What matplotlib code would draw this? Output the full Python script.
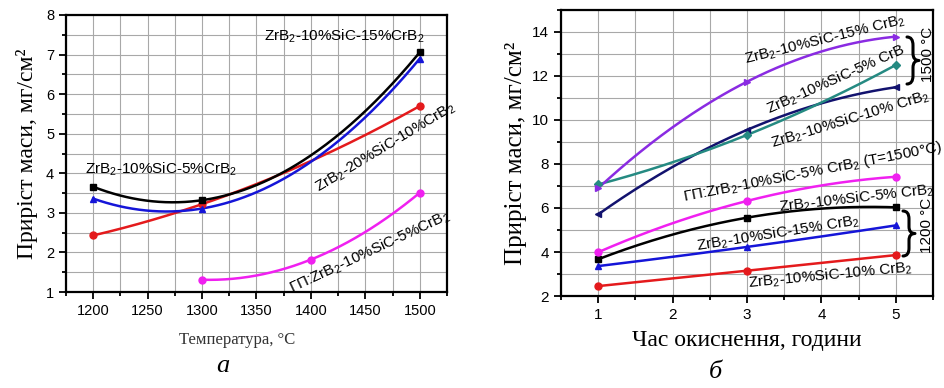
import numpy as np
import matplotlib
matplotlib.use("Agg")
import matplotlib.pyplot as plt
from matplotlib.ticker import MultipleLocator
from matplotlib.path import Path
from matplotlib.patches import PathPatch

plt.rcParams['font.family'] = ['Liberation Sans', 'DejaVu Sans']
plt.rcParams['mathtext.fontset'] = 'custom'
plt.rcParams['mathtext.rm'] = 'Liberation Sans'
plt.rcParams['mathtext.it'] = 'Liberation Sans:italic'
plt.rcParams['mathtext.bf'] = 'Liberation Sans:bold'

# ---------------- data: panel (a) ----------------
temp_black = [1200, 1300, 1500]
mass_black = [3.66, 3.32, 7.06]
temp_blue = [1200, 1300, 1500]
mass_blue = [3.36, 3.11, 6.90]
temp_red = [1200, 1300, 1500]
mass_red = [2.43, 3.22, 5.70]
temp_mag = [1300, 1400, 1500]
mass_mag = [1.31, 1.82, 3.51]

# ---------------- data: panel (б) ----------------
hours = [1, 3, 5]
m_purple = [6.90, 11.74, 13.79]
m_teal = [7.07, 9.32, 12.50]
m_navy = [5.71, 9.55, 11.49]
m_mag = [3.99, 6.32, 7.42]
m_black = [3.67, 5.56, 6.03]
m_blue = [3.36, 4.23, 5.21]
m_red = [2.45, 3.15, 3.86]

W, H = 944, 388
fig = plt.figure(figsize=(W / 100, H / 100), dpi=100)

def px_axes(x0, y0, x1, y1):
    return fig.add_axes([x0 / W, 1 - y1 / H, (x1 - x0) / W, (y1 - y0) / H])

def smooth(ax, x, y, color, marker, ms=5):
    x = np.asarray(x, float); y = np.asarray(y, float)
    c = np.polyfit(x, y, 2)
    xs = np.linspace(x.min(), x.max(), 200)
    ax.plot(xs, np.polyval(c, xs), color=color, lw=1.8, zorder=3)
    ax.plot(x, y, ls='none', marker=marker, color=color, ms=ms, zorder=4)

def style(ax):
    ax.grid(True, which='both', color='#a8a8a8', lw=0.8, zorder=0)
    ax.set_axisbelow(True)
    for s in ax.spines.values():
        s.set_linewidth(1.6)
    ax.tick_params(which='both', direction='out', width=1.3, top=False, right=False)
    ax.tick_params(which='major', length=5)
    ax.tick_params(which='minor', length=3)

def brace(x, y0, y1, w, lw=2.2):
    # curly brace in figure pixel coords, tip pointing right
    ym = (y0 + y1) / 2
    v = [(x, y0), (x + w * 0.5, y0), (x + w * 0.5, y0 + (ym - y0) * 0.35),
         (x + w * 0.5, ym - (ym - y0) * 0.3), (x + w * 0.5, ym), (x + w, ym),
         (x + w * 0.5, ym), (x + w * 0.5, ym + (y1 - ym) * 0.3),
         (x + w * 0.5, y1 - (y1 - ym) * 0.35), (x + w * 0.5, y1), (x, y1)]
    v = [(vx / W, 1 - vy / H) for vx, vy in v]
    c = [Path.MOVETO, Path.CURVE3, Path.CURVE3, Path.LINETO, Path.CURVE3, Path.CURVE3,
         Path.CURVE3, Path.CURVE3, Path.LINETO, Path.CURVE3, Path.CURVE3]
    p = PathPatch(Path(v, c), transform=fig.transFigure, fill=False, lw=lw,
                  color='black', capstyle='round', joinstyle='round')
    fig.patches.append(p)

serif = ['Liberation Serif', 'DejaVu Serif']

# ---------------- panel (a) ----------------
ax1 = px_axes(66, 15, 447, 292)
style(ax1)
ax1.set_xlim(1175, 1525)
ax1.set_ylim(1, 8)
ax1.xaxis.set_major_locator(MultipleLocator(50))
ax1.xaxis.set_minor_locator(MultipleLocator(25))
ax1.yaxis.set_major_locator(MultipleLocator(1))
ax1.yaxis.set_minor_locator(MultipleLocator(0.5))
ax1.tick_params(labelsize=10.5)

smooth(ax1, temp_red, mass_red, '#e41a1c', 'o')
smooth(ax1, temp_mag, mass_mag, '#f020f0', 'o')
smooth(ax1, temp_blue, mass_blue, '#1515d8', '^')
smooth(ax1, temp_black, mass_black, '#000000', 's')

ax1.set_ylabel('Приріст маси, мг/см²', family=serif, fontsize=17, labelpad=6)
ax1.set_xlabel('Температура, °C', family=serif, fontsize=12, color='#333333')
ax1.xaxis.set_label_coords((237 - 66) / 381, -(332 - 292) / 277)

kw = dict(ha='center', va='center', rotation_mode='anchor', fontsize=11, zorder=6)
ax1.text(1431, 7.47, 'ZrB$_2$-10%SiC-15%CrB$_2$', **kw)
ax1.text(1262, 4.11, 'ZrB$_2$-10%SiC-5%CrB$_2$', **kw)
ax1.text(1468, 4.66, 'ZrB$_2$-20%SiC-10%CrB$_2$', rotation=31, clip_on=False, **kw)
ax1.text(1454, 2.01, 'ГП:ZrB$_2$-10%SiC-5%CrB$_2$', rotation=25, **kw)

fig.text(223 / W, 1 - 366 / H, 'а', family=serif, style='italic', fontsize=19,
         ha='center', va='center')

# ---------------- panel (б) ----------------
ax2 = px_axes(561, 10, 933, 296)
style(ax2)
ax2.set_xlim(0.5, 5.5)
ax2.set_ylim(2, 15)
ax2.xaxis.set_major_locator(MultipleLocator(1))
ax2.xaxis.set_minor_locator(MultipleLocator(0.5))
ax2.yaxis.set_major_locator(MultipleLocator(2))
ax2.yaxis.set_minor_locator(MultipleLocator(1))
ax2.tick_params(labelsize=11)

smooth(ax2, hours, m_red, '#e41a1c', 'o')
smooth(ax2, hours, m_blue, '#1515d8', '^')
smooth(ax2, hours, m_black, '#000000', 's')
smooth(ax2, hours, m_mag, '#f020f0', 'o')
smooth(ax2, hours, m_navy, '#12126e', '<')
smooth(ax2, hours, m_teal, '#258a82', 'D', ms=4)
smooth(ax2, hours, m_purple, '#8a2be2', '>')

ax2.set_ylabel('Приріст маси, мг/см²', family=serif, fontsize=18, labelpad=4)
ax2.set_xlabel('Час окиснення, години', family=serif, fontsize=17, labelpad=6)

kw2 = dict(ha='center', va='center', rotation_mode='anchor', fontsize=11, zorder=6, clip_on=False)
ax2.text(4.05, 13.64, 'ZrB$_2$-10%SiC-15% CrB$_2$', rotation=14, **kw2)
ax2.text(4.19, 11.82, 'ZrB$_2$-10%SiC-5% CrB', rotation=24, **kw2)
ax2.text(4.39, 10.0, 'ZrB$_2$-10%SiC-10% CrB$_2$', rotation=17, **kw2)
ax2.text(3.88, 7.64, 'ГП:ZrB$_2$-10%SiC-5% CrB$_2$ (T=1500°C)', rotation=11, **kw2)
ax2.text(4.48, 6.41, 'ZrB$_2$-10%SiC-5% CrB$_2$', rotation=6.5, **kw2)
ax2.text(3.42, 4.82, 'ZrB$_2$-10%SiC-15% CrB$_2$', rotation=9, **kw2)
ax2.text(4.12, 2.95, 'ZrB$_2$-10%SiC-10% CrB$_2$', rotation=5.5, **kw2)

brace(907, 37, 84, 12)
brace(903, 211, 256, 12)
fig.text(928 / W, 1 - 54 / H, '1500 °C', rotation=90, fontsize=11, ha='center', va='center')
fig.text(927 / W, 1 - 225 / H, '1200 °C', rotation=90, fontsize=11, ha='center', va='center')

fig.text(715 / W, 1 - 372 / H, 'б', family=serif, style='italic', fontsize=19,
         ha='center', va='center')

fig.savefig('out.png', dpi=100)
